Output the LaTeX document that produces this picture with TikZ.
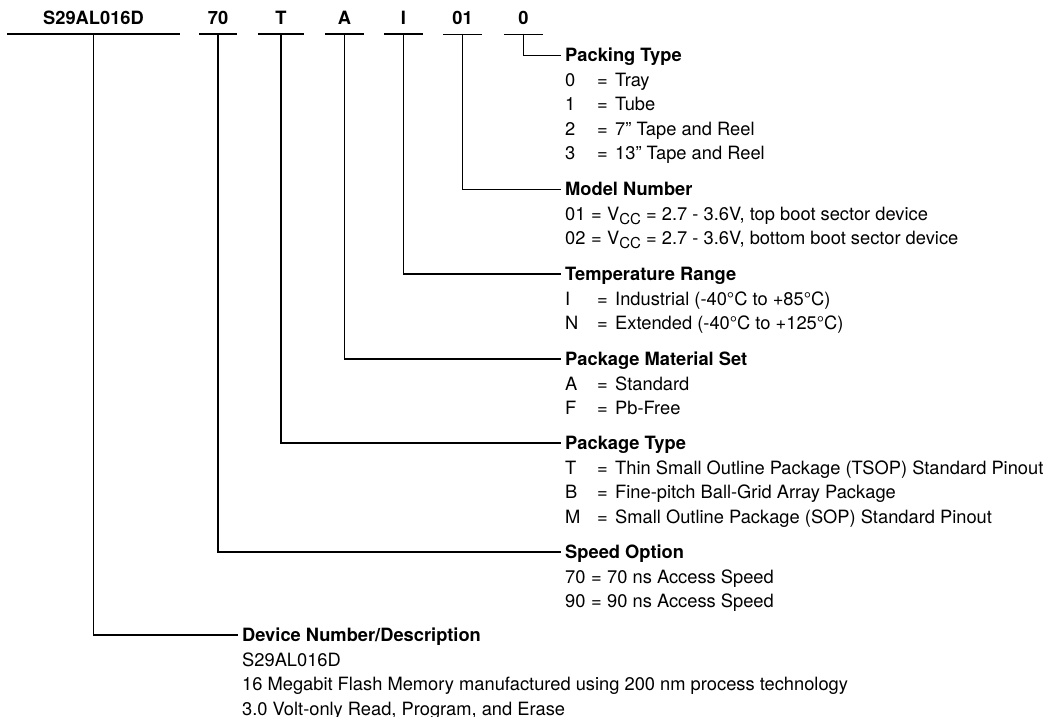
\documentclass[tikz,border=0pt]{standalone}
\usepackage{fontspec}
\setmainfont{TeX Gyre Heros}
\usetikzlibrary{positioning}
\tikzset{lab/.style = {font=\bfseries, anchor=base, inner sep=0pt}}
\tikzset{head/.style = {font=\bfseries, anchor=west, inner xsep=4pt, inner ysep=0pt,
                        text height=13.1pt, text depth=0pt}}
\tikzset{item/.style = {anchor=west, inner sep=0pt, text height=13.1pt, text depth=0pt}}
\tikzset{lead/.style = {line width=1.5pt}}
\tikzset{thinlead/.style = {line width=0.9pt}}
\newcommand{\code}[2]{\makebox[32pt][l]{#1}\makebox[18pt][l]{=}#2}
\newcommand{\codew}[2]{\makebox[26pt][l]{#1}\makebox[16pt][l]{=}#2}
\newcommand{\vcc}{V\raisebox{-4pt}{\fontsize{15pt}{15pt}\selectfont CC}}

\begin{document}
\fontsize{18.3pt}{24.5pt}\selectfont
\begin{tikzpicture}[x=1pt, y=-1pt]
    \useasboundingbox (0,0) rectangle (1055,717);
    \foreach \n/\txt/\xa/\xb/\w in {dev/S29AL016D/7/180/1.5pt, spd/70/199/237/1.5pt,
        pkg/T/258/304/1.5pt, mat/A/325/364/1.5pt, tmp/I/384/423/1.5pt,
        mdl/01/443/482/0.9pt, pak/0/504/543/0.9pt} {
      \node [lab] (l\n) at ({(\xa+\xb)/2}, 25) {\txt};
      \draw [line width=\w] (\xa, 34) -- (\xb, 34);
      \coordinate (c\n) at ({(\xa+\xb)/2}, 34);
    }
    \node [head] (hpak) at (561, 55) {Packing Type};
    \node [head] (hmdl) at (561, 189) {Model Number};
    \node [head] (htmp) at (561, 274) {Temperature Range};
    \node [head] (hmat) at (561, 359) {Package Material Set};
    \node [head] (hpkg) at (561, 443) {Package Type};
    \node [head] (hspd) at (561, 552) {Speed Option};
    \node [head] (hdev) at (238, 635) {Device Number/Description};
    \draw [thinlead] (cpak) |- (hpak.west);
    \draw [thinlead] (cmdl) |- (hmdl.west);
    \draw [lead] (ctmp) |- (htmp.west);
    \draw [lead] (cmat) |- (hmat.west);
    \draw [lead] (cpkg) |- (hpkg.west);
    \draw [lead] (cspd) |- (hspd.west);
    \draw [lead] (cdev) |- (hdev.west);
    \foreach \t [count=\i] in {\code{0}{Tray}, \code{1}{Tube},
        \code{2}{7” Tape and Reel}, \code{3}{13” Tape and Reel}}
      \node [item] (pak\i) at (565, 55+24.5*\i) {\t};
    \foreach \t [count=\i] in {{\codew{01}{\vcc{} = 2.7 - 3.6V, top boot sector device}},
        {\codew{02}{\vcc{} = 2.7 - 3.6V, bottom boot sector device}}}
      \node [item] (mdl\i) at (565, 189+24.5*\i) {\t};
    \foreach \t [count=\i] in {\code{I}{Industrial (-40°C to +85°C)},
        \code{N}{Extended (-40°C to +125°C)}}
      \node [item] (tmp\i) at (565, 274+24.5*\i) {\t};
    \foreach \t [count=\i] in {\code{A}{Standard}, \code{F}{Pb-Free}}
      \node [item] (mat\i) at (565, 359+24.5*\i) {\t};
    \foreach \t [count=\i] in {\code{T}{Thin Small Outline Package (TSOP) Standard Pinout},
        \code{B}{Fine-pitch Ball-Grid Array Package},
        \code{M}{Small Outline Package (SOP) Standard Pinout}}
      \node [item] (pkg\i) at (565, 443+24.5*\i) {\t};
    \foreach \t [count=\i] in {\codew{70}{70 ns Access Speed}, \codew{90}{90 ns Access Speed}}
      \node [item] (spd\i) at (565, 552+24.5*\i) {\t};
    \foreach \t [count=\i] in {S29AL016D,
        16 Megabit Flash Memory manufactured using 200 nm process technology,
        {3.0 Volt-only Read, Program, and Erase}}
      \node [item] (dev\i) at (242, 635+24.5*\i) {\t};
\end{tikzpicture}
\end{document}
